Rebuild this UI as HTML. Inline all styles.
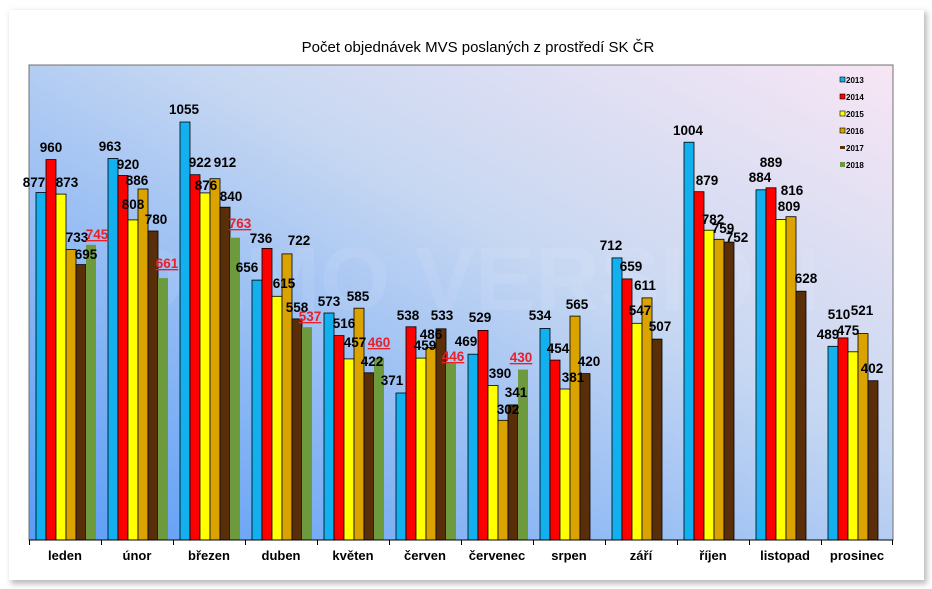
<!DOCTYPE html>
<html><head><meta charset="utf-8"><style>
html,body{margin:0;padding:0;background:#fff;width:932px;height:589px;overflow:hidden}
svg{display:block}
.v{font-family:"Liberation Sans",sans-serif;font-weight:bold;font-size:13.5px;fill:#000;text-anchor:middle}
.r{fill:#e8202a;text-decoration:underline}
.c{font-family:"Liberation Sans",sans-serif;font-weight:bold;font-size:13px;fill:#000;text-anchor:middle}
.l{font-family:"Liberation Sans",sans-serif;font-weight:bold;font-size:8px;fill:#000}
</style></head><body>
<svg width="932" height="589" xmlns="http://www.w3.org/2000/svg">
<defs>
<linearGradient id="bg" x1="0" y1="1" x2="1" y2="0">
<stop offset="0" stop-color="#5a9cf6"/>
<stop offset="0.3" stop-color="#8db8f4"/>
<stop offset="0.6" stop-color="#c8d8f2"/>
<stop offset="1" stop-color="#f7e6f4"/>
</linearGradient>
<filter id="sh" x="-5%" y="-5%" width="110%" height="110%"><feGaussianBlur stdDeviation="3"/></filter>
</defs>
<rect x="11" y="12" width="916" height="572" fill="#bbb" filter="url(#sh)"/>
<rect x="9" y="10" width="915" height="570" fill="#fff"/>
<text x="478" y="52" font-family="Liberation Sans,sans-serif" font-size="15" text-anchor="middle">Počet objednávek MVS poslaných z prostředí SK ČR</text>
<rect x="29" y="65" width="864" height="475" fill="url(#bg)" stroke="#707070" stroke-width="1"/>
<text x="470" y="310" font-family="Liberation Sans,sans-serif" font-weight="bold" font-size="90" fill="#ffffff" fill-opacity="0.08" text-anchor="middle">DEMO VERSION</text>
<g stroke="#000" stroke-width="0.8">
<rect x="36" y="192.5" width="10" height="347.5" fill="#12b0ee"/><rect x="46" y="159.6" width="10" height="380.4" fill="#ff0000"/><rect x="56" y="194.1" width="10" height="345.9" fill="#ffff00"/><rect x="66" y="249.6" width="10" height="290.4" fill="#dba300"/><rect x="76" y="264.6" width="10" height="275.4" fill="#5a2e08"/><rect x="86" y="244.8" width="10" height="295.2" fill="#6c9a3c" stroke="none"/>
<rect x="108" y="158.5" width="10" height="381.5" fill="#12b0ee"/><rect x="118" y="175.5" width="10" height="364.5" fill="#ff0000"/><rect x="128" y="219.9" width="10" height="320.1" fill="#ffff00"/><rect x="138" y="189" width="10" height="351" fill="#dba300"/><rect x="148" y="231" width="10" height="309" fill="#5a2e08"/><rect x="158" y="278.1" width="10" height="261.9" fill="#6c9a3c" stroke="none"/>
<rect x="180" y="122" width="10" height="418" fill="#12b0ee"/><rect x="190" y="174.7" width="10" height="365.3" fill="#ff0000"/><rect x="200" y="192.9" width="10" height="347.1" fill="#ffff00"/><rect x="210" y="178.7" width="10" height="361.3" fill="#dba300"/><rect x="220" y="207.2" width="10" height="332.8" fill="#5a2e08"/><rect x="230" y="237.7" width="10" height="302.3" fill="#6c9a3c" stroke="none"/>
<rect x="252" y="280.1" width="10" height="259.9" fill="#12b0ee"/><rect x="262" y="248.4" width="10" height="291.6" fill="#ff0000"/><rect x="272" y="296.3" width="10" height="243.7" fill="#ffff00"/><rect x="282" y="253.9" width="10" height="286.1" fill="#dba300"/><rect x="292" y="318.9" width="10" height="221.1" fill="#5a2e08"/><rect x="302" y="327.2" width="10" height="212.8" fill="#6c9a3c" stroke="none"/>
<rect x="324" y="313" width="10" height="227" fill="#12b0ee"/><rect x="334" y="335.6" width="10" height="204.4" fill="#ff0000"/><rect x="344" y="358.9" width="10" height="181.1" fill="#ffff00"/><rect x="354" y="308.2" width="10" height="231.8" fill="#dba300"/><rect x="364" y="372.8" width="10" height="167.2" fill="#5a2e08"/><rect x="374" y="357.7" width="10" height="182.3" fill="#6c9a3c" stroke="none"/>
<rect x="396" y="393" width="10" height="147" fill="#12b0ee"/><rect x="406" y="326.8" width="10" height="213.2" fill="#ff0000"/><rect x="416" y="358.1" width="10" height="181.9" fill="#ffff00"/><rect x="426" y="347.4" width="10" height="192.6" fill="#dba300"/><rect x="436" y="328.8" width="10" height="211.2" fill="#5a2e08"/><rect x="446" y="363.3" width="10" height="176.7" fill="#6c9a3c" stroke="none"/>
<rect x="468" y="354.2" width="10" height="185.8" fill="#12b0ee"/><rect x="478" y="330.4" width="10" height="209.6" fill="#ff0000"/><rect x="488" y="385.5" width="10" height="154.5" fill="#ffff00"/><rect x="498" y="420.3" width="10" height="119.7" fill="#dba300"/><rect x="508" y="404.9" width="10" height="135.1" fill="#5a2e08"/><rect x="518" y="369.6" width="10" height="170.4" fill="#6c9a3c" stroke="none"/>
<rect x="540" y="328.4" width="10" height="211.6" fill="#12b0ee"/><rect x="550" y="360.1" width="10" height="179.9" fill="#ff0000"/><rect x="560" y="389" width="10" height="151" fill="#ffff00"/><rect x="570" y="316.1" width="10" height="223.9" fill="#dba300"/><rect x="580" y="373.6" width="10" height="166.4" fill="#5a2e08"/>
<rect x="612" y="257.9" width="10" height="282.1" fill="#12b0ee"/><rect x="622" y="278.9" width="10" height="261.1" fill="#ff0000"/><rect x="632" y="323.3" width="10" height="216.7" fill="#ffff00"/><rect x="642" y="297.9" width="10" height="242.1" fill="#dba300"/><rect x="652" y="339.1" width="10" height="200.9" fill="#5a2e08"/>
<rect x="684" y="142.2" width="10" height="397.8" fill="#12b0ee"/><rect x="694" y="191.7" width="10" height="348.3" fill="#ff0000"/><rect x="704" y="230.2" width="10" height="309.8" fill="#ffff00"/><rect x="714" y="239.3" width="10" height="300.7" fill="#dba300"/><rect x="724" y="242.1" width="10" height="297.9" fill="#5a2e08"/>
<rect x="756" y="189.8" width="10" height="350.2" fill="#12b0ee"/><rect x="766" y="187.8" width="10" height="352.2" fill="#ff0000"/><rect x="776" y="219.5" width="10" height="320.5" fill="#ffff00"/><rect x="786" y="216.7" width="10" height="323.3" fill="#dba300"/><rect x="796" y="291.2" width="10" height="248.8" fill="#5a2e08"/>
<rect x="828" y="346.3" width="10" height="193.7" fill="#12b0ee"/><rect x="838" y="337.9" width="10" height="202.1" fill="#ff0000"/><rect x="848" y="351.8" width="10" height="188.2" fill="#ffff00"/><rect x="858" y="333.6" width="10" height="206.4" fill="#dba300"/><rect x="868" y="380.7" width="10" height="159.3" fill="#5a2e08"/>
</g>
<line x1="29" y1="540" x2="893" y2="540" stroke="#000"/>
<g stroke="#000">
<line x1="29.5" y1="540" x2="29.5" y2="545"/><line x1="101.5" y1="540" x2="101.5" y2="545"/><line x1="173.5" y1="540" x2="173.5" y2="545"/><line x1="245.5" y1="540" x2="245.5" y2="545"/><line x1="317.5" y1="540" x2="317.5" y2="545"/><line x1="389.5" y1="540" x2="389.5" y2="545"/><line x1="461.5" y1="540" x2="461.5" y2="545"/><line x1="533.5" y1="540" x2="533.5" y2="545"/><line x1="605.5" y1="540" x2="605.5" y2="545"/><line x1="677.5" y1="540" x2="677.5" y2="545"/><line x1="749.5" y1="540" x2="749.5" y2="545"/><line x1="821.5" y1="540" x2="821.5" y2="545"/><line x1="892.5" y1="540" x2="892.5" y2="545"/>
</g>
<g>
<text class="c" x="65" y="560">leden</text><text class="c" x="137" y="560">únor</text><text class="c" x="209" y="560">březen</text><text class="c" x="281" y="560">duben</text><text class="c" x="353" y="560">květen</text><text class="c" x="425" y="560">červen</text><text class="c" x="497" y="560">červenec</text><text class="c" x="569" y="560">srpen</text><text class="c" x="641" y="560">září</text><text class="c" x="713" y="560">říjen</text><text class="c" x="785" y="560">listopad</text><text class="c" x="857" y="560">prosinec</text>
</g>
<g>
<text class="v" x="34" y="187">877</text><text class="v" x="51" y="152">960</text><text class="v" x="67" y="187">873</text><text class="v" x="77" y="242">733</text><text class="v" x="86" y="259">695</text><text class="v r" x="97" y="239">745</text>
<text class="v" x="110" y="151">963</text><text class="v" x="128" y="169">920</text><text class="v" x="137" y="185">886</text><text class="v" x="133" y="209">808</text><text class="v" x="156" y="224">780</text><text class="v r" x="167" y="268">661</text>
<text class="v" x="184" y="114">1055</text><text class="v" x="200" y="167">922</text><text class="v" x="206" y="190">876</text><text class="v" x="225" y="167">912</text><text class="v" x="231" y="201">840</text><text class="v r" x="240" y="228">763</text>
<text class="v" x="247" y="272">656</text><text class="v" x="261" y="243">736</text><text class="v" x="284" y="288">615</text><text class="v" x="299" y="245">722</text><text class="v" x="297" y="312">558</text><text class="v r" x="310" y="321">537</text>
<text class="v" x="329" y="306">573</text><text class="v" x="344" y="328">516</text><text class="v" x="355" y="347">457</text><text class="v" x="358" y="301">585</text><text class="v" x="372" y="366">422</text><text class="v r" x="379" y="347">460</text>
<text class="v" x="392" y="385">371</text><text class="v" x="408" y="320">538</text><text class="v" x="425" y="350">459</text><text class="v" x="431" y="339">486</text><text class="v" x="442" y="320">533</text><text class="v r" x="453" y="361">446</text>
<text class="v" x="466" y="346">469</text><text class="v" x="480" y="322">529</text><text class="v" x="500" y="378">390</text><text class="v" x="508" y="414">302</text><text class="v" x="516" y="397">341</text><text class="v r" x="521" y="362">430</text>
<text class="v" x="540" y="320">534</text><text class="v" x="558" y="353">454</text><text class="v" x="573" y="382">381</text><text class="v" x="577" y="309">565</text><text class="v" x="589" y="366">420</text>
<text class="v" x="611" y="250">712</text><text class="v" x="631" y="271">659</text><text class="v" x="640" y="315">547</text><text class="v" x="645" y="290">611</text><text class="v" x="660" y="331">507</text>
<text class="v" x="688" y="135">1004</text><text class="v" x="707" y="185">879</text><text class="v" x="713" y="224">782</text><text class="v" x="723" y="233">759</text><text class="v" x="737" y="242">752</text>
<text class="v" x="760" y="182">884</text><text class="v" x="771" y="167">889</text><text class="v" x="789" y="211">809</text><text class="v" x="792" y="195">816</text><text class="v" x="806" y="283">628</text>
<text class="v" x="828" y="339">489</text><text class="v" x="839" y="319">510</text><text class="v" x="848" y="335">475</text><text class="v" x="862" y="315">521</text><text class="v" x="872" y="373">402</text>
</g>
<g>
<rect x="840" y="77" width="5" height="5" fill="#12b0ee" stroke="#000" stroke-width="0.6"/><text class="l" x="846" y="83">2013</text>
<rect x="840" y="94" width="5" height="5" fill="#ff0000" stroke="#000" stroke-width="0.6"/><text class="l" x="846" y="100">2014</text>
<rect x="840" y="111" width="5" height="5" fill="#ffff00" stroke="#000" stroke-width="0.6"/><text class="l" x="846" y="117">2015</text>
<rect x="840" y="128" width="5" height="5" fill="#dba300" stroke="#000" stroke-width="0.6"/><text class="l" x="846" y="134">2016</text>
<rect x="840" y="146" width="5" height="3" fill="#5a2e08"/><text class="l" x="846" y="151">2017</text>
<rect x="840" y="162" width="5" height="5" fill="#6c9a3c"/><text class="l" x="846" y="168">2018</text>
</g>
</svg>
</body></html>
